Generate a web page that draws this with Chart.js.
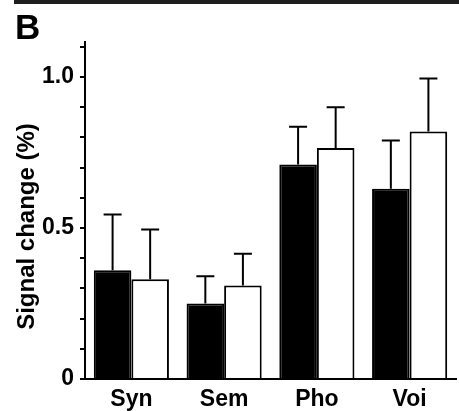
<!DOCTYPE html>
<html>
<head>
<meta charset="utf-8">
<style>
  html, body { margin: 0; padding: 0; background: #fff; }
  #wrap { position: relative; width: 459px; height: 411px; overflow: hidden; }
  #top-band { position: absolute; left: 14px; top: 0; width: 445px; height: 4px; background: #1e1e1e; }
  #panel-label { position: absolute; left: 15px; top: 9px; font: bold 35px "Liberation Sans", Arial, sans-serif; line-height: 1; color: #000; }
  #chart { position: absolute; left: 0; top: 0; }
</style>
</head>
<body>
<div id="wrap">
  <canvas id="chart" width="459" height="411"></canvas>
  <div id="top-band"></div>
  <div id="panel-label">B</div>
</div>
<script src="https://cdn.jsdelivr.net/npm/chart.js@4"></script>
<script>
// categories and values
const categories = ['Syn', 'Sem', 'Pho', 'Voi'];
const blackMeans = [0.36, 0.25, 0.71, 0.63];
const blackErrors = [0.185, 0.09, 0.125, 0.16];
const whiteMeans = [0.33, 0.31, 0.765, 0.82];
const whiteErrors = [0.165, 0.105, 0.135, 0.175];
const labeledTicks = [0, 0.5, 1.0];
const tickLabels = ['0', '0.5', '1.0'];
const yTitle = 'Signal change (%)';

(function() {
  'use strict';
  const fontFamily = '"Liberation Sans", Arial, sans-serif';
  const ctx = document.getElementById('chart').getContext('2d');

  // error bars (upper half only) on top of each bar
  const errorBarPlugin = {
    id: 'errorBars',
    afterDatasetsDraw(chart) {
      const c = chart.ctx;
      const yScale = chart.scales.y;
      c.save();
      c.strokeStyle = '#000';
      c.lineWidth = 2;
      chart.data.datasets.forEach(function(ds, i) {
        const meta = chart.getDatasetMeta(i);
        meta.data.forEach(function(bar, j) {
          const top = yScale.getPixelForValue(ds.data[j] + ds.errors[j]);
          c.beginPath();
          c.moveTo(bar.x, bar.y);
          c.lineTo(bar.x, top);
          c.moveTo(bar.x - 9, top);
          c.lineTo(bar.x + 9, top);
          c.stroke();
        });
      });
      c.restore();
    }
  };

  // y axis title, a little below the middle of the axis as in the figure
  const yTitlePlugin = {
    id: 'yTitle',
    afterDraw(chart) {
      const c = chart.ctx;
      const yScale = chart.scales.y;
      c.save();
      c.translate(27, yScale.getPixelForValue(0.505));
      c.rotate(-Math.PI / 2);
      c.fillStyle = '#000';
      c.font = 'bold 24px ' + fontFamily;
      c.textAlign = 'center';
      c.textBaseline = 'middle';
      c.fillText(yTitle, 0, 0);
      c.restore();
    }
  };

  new Chart(ctx, {
    type: 'bar',
    data: {
      labels: categories,
      datasets: [{
        data: blackMeans,
        errors: blackErrors,
        backgroundColor: '#000',
        borderColor: '#000',
        borderWidth: 2,
      }, {
        data: whiteMeans,
        errors: whiteErrors,
        backgroundColor: '#fff',
        borderColor: '#000',
        borderWidth: 2,
      }],
    },
    options: {
      responsive: false,
      animation: false,
      layout: { padding: { top: 42, right: 3, left: 0, bottom: 0 } },
      plugins: {
        legend: { display: false },
        tooltip: { enabled: false },
      },
      datasets: {
        bar: { barPercentage: 1, categoryPercentage: 0.81 },
      },
      scales: {
        x: {
          grid: { display: false, drawTicks: false },
          border: { display: true, color: '#000', width: 2 },
          ticks: {
            color: '#000',
            padding: 7,
            font: { family: fontFamily, size: 23, weight: 'bold' },
          },
          afterFit: function(scale) { scale.height = 32; },
        },
        y: {
          min: 0,
          max: 1.116,
          grid: {
            display: true,
            drawOnChartArea: false,
            drawTicks: true,
            tickLength: 5,
            color: '#000',
            lineWidth: 2,
          },
          border: { display: true, color: '#000', width: 2 },
          afterBuildTicks: function(scale) {
            const ticks = [];
            for (let k = 0; k <= 11; k++) {
              ticks.push({ value: k / 10 });
            }
            scale.ticks = ticks;
          },
          ticks: {
            color: '#000',
            padding: 6,
            autoSkip: false,
            font: { family: fontFamily, size: 23, weight: 'bold' },
            callback: function(value) {
              const idx = labeledTicks.findIndex(function(t) { return Math.abs(t - value) < 1e-6; });
              return idx >= 0 ? tickLabels[idx] : '';
            },
          },
          afterFit: function(scale) { scale.width = 85; },
        },
      },
    },
    plugins: [errorBarPlugin, yTitlePlugin],
  });
})();
</script>
</body>
</html>
